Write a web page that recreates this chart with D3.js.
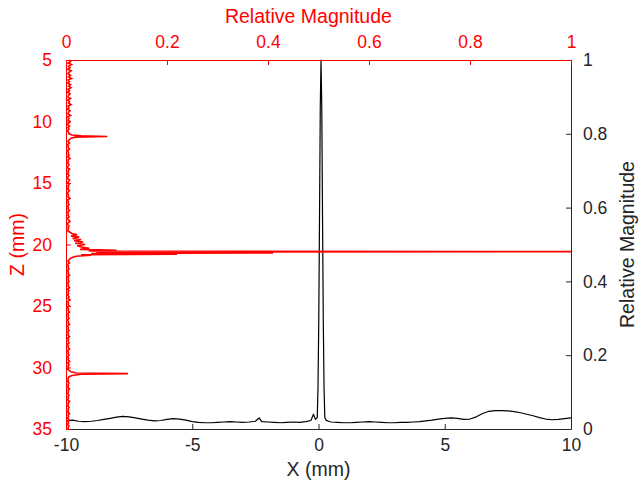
<!DOCTYPE html>
<html>
<head>
<meta charset="utf-8">
<script src="https://cdn.jsdelivr.net/npm/d3@7/dist/d3.min.js"></script>
<style>
  html, body { margin: 0; padding: 0; background: #fff; }
  svg { display: block; font-family: "Liberation Sans", Arial, Helvetica, sans-serif; }
</style>
</head>
<body>
<svg id="chart" width="639" height="488"></svg>
<script>
// ---------- Data ----------
// Lateral profile (black): X (mm) vs relative magnitude
const blackX = [-10,-9.75,-9.5,-9.25,-9,-8.75,-8.5,-8.25,-8,-7.75,-7.5,-7.25,-7,-6.75,-6.5,-6.25,-6,-5.75,-5.5,-5.25,-5,-4.75,-4.5,-4.25,-4,-3.75,-3.5,-3.25,-3,-2.75,-2.5,-2.35,-2.25,-2,-1.75,-1.5,-1.25,-1,-0.75,-0.5,-0.3,-0.2,-0.12,-0.05,-0.02,0.01,0.04,0.07,0.1,0.13,0.16,0.19,0.22,0.25,0.3,0.4,0.5,0.75,1,1.25,1.5,1.75,2,2.25,2.5,2.75,3,3.25,3.5,3.75,4,4.25,4.5,4.75,5,5.25,5.5,5.75,6,6.25,6.5,6.75,7,7.25,7.5,7.75,8,8.25,8.5,8.75,9,9.25,9.5,9.75,10];
const blackY = [0.022,0.024,0.021,0.02,0.021,0.023,0.026,0.029,0.032,0.034,0.033,0.03,0.027,0.024,0.022,0.023,0.026,0.028,0.027,0.024,0.02,0.018,0.017,0.017,0.018,0.019,0.02,0.019,0.018,0.019,0.021,0.03,0.02,0.019,0.018,0.017,0.018,0.019,0.018,0.02,0.023,0.04,0.026,0.031,0.11,0.29,0.57,0.87,1.0,0.87,0.57,0.29,0.11,0.031,0.024,0.021,0.019,0.018,0.017,0.017,0.018,0.019,0.02,0.019,0.018,0.017,0.017,0.018,0.018,0.019,0.02,0.022,0.024,0.027,0.029,0.03,0.029,0.026,0.027,0.033,0.042,0.048,0.05,0.05,0.049,0.047,0.044,0.04,0.036,0.031,0.027,0.025,0.026,0.028,0.03];

// Axial profile (red): Z (mm) vs relative magnitude
const redZ = [
  5,5.125,5.25,5.375,5.5,5.625,5.75,5.875,6,6.125,6.25,6.375,6.5,6.625,6.75,6.875,7,7.125,7.25,7.375,7.5,7.625,7.75,7.875,
  8,8.125,8.25,8.375,8.5,8.625,8.75,8.875,9,9.125,9.25,9.375,9.5,9.625,9.75,9.875,10,10.125,10.25,10.375,10.5,10.625,10.75,10.875,
  11,11.1,11.17,11.22,11.27,11.35,11.5,11.625,11.75,11.875,12,12.125,12.25,12.375,12.5,12.625,12.75,12.875,13,13.125,13.25,13.375,
  13.5,13.625,13.75,13.875,14,14.125,14.25,14.375,14.5,14.625,14.75,14.875,15,15.125,15.25,15.375,15.5,15.625,15.75,15.875,
  16,16.125,16.25,16.375,16.5,16.625,16.75,16.875,17,17.125,17.25,17.375,17.5,17.625,17.75,17.875,18,18.125,18.25,18.375,
  18.5,18.625,18.75,18.875,19,19.1,19.2,19.3,19.4,19.5,19.6,19.7,19.8,19.9,20,20.1,20.2,20.3,20.4,20.47,20.53,20.58,20.63,
  20.68,20.73,20.78,20.83,20.88,20.95,21.02,21.1,21.25,21.375,21.5,21.625,21.75,21.875,22,22.125,22.25,22.375,22.5,22.625,
  22.75,22.875,23,23.125,23.25,23.375,23.5,23.625,23.75,23.875,24,24.125,24.25,24.375,24.5,24.625,24.75,24.875,25,25.125,
  25.25,25.375,25.5,25.625,25.75,25.875,26,26.125,26.25,26.375,26.5,26.625,26.75,26.875,27,27.125,27.25,27.375,27.5,27.625,
  27.75,27.875,28,28.125,28.25,28.375,28.5,28.625,28.75,28.875,29,29.125,29.25,29.375,29.5,29.625,29.75,29.875,30,30.125,
  30.25,30.35,30.45,30.5,30.55,30.65,30.75,30.875,31,31.125,31.25,31.375,31.5,31.625,31.75,31.875,32,32.125,32.25,32.375,
  32.5,32.625,32.75,32.875,33,33.125,33.25,33.375,33.5,33.625,33.75,33.875,34,34.125,34.25,34.375,34.5,34.625,34.75,34.875,35];
const redMag = [
  0.006,0.009,0.004,0.011,0.005,0.008,0.003,0.01,0.006,0.004,0.009,0.005,0.011,0.004,0.007,0.003,0.009,0.005,0.01,0.004,0.007,0.003,0.008,0.005,
  0.004,0.009,0.003,0.007,0.005,0.01,0.004,0.006,0.003,0.008,0.005,0.004,0.009,0.003,0.006,0.004,0.008,0.005,0.003,0.007,0.004,0.006,0.003,0.005,
  0.006,0.012,0.03,0.082,0.018,0.01,0.006,0.004,0.007,0.003,0.005,0.004,0.007,0.003,0.005,0.004,0.006,0.003,0.008,0.004,0.005,0.003,
  0.006,0.004,0.003,0.007,0.004,0.005,0.003,0.006,0.004,0.003,0.007,0.005,0.003,0.006,0.004,0.005,0.003,0.007,0.004,0.003,
  0.005,0.004,0.008,0.003,0.005,0.004,0.006,0.003,0.005,0.004,0.007,0.003,0.005,0.004,0.006,0.003,0.005,0.008,0.004,0.003,
  0.006,0.004,0.005,0.003,0.008,0.012,0.022,0.01,0.026,0.013,0.03,0.016,0.034,0.018,0.038,0.022,0.03,0.046,0.028,0.1,0.045,1.0,0.06,
  0.41,0.05,0.22,0.03,0.05,0.02,0.015,0.01,0.006,0.004,0.007,0.003,0.005,0.004,0.006,0.003,0.005,0.004,0.007,0.003,0.005,
  0.004,0.006,0.003,0.005,0.004,0.007,0.003,0.006,0.004,0.005,0.003,0.006,0.004,0.008,0.003,0.005,0.004,0.006,0.003,0.005,
  0.004,0.007,0.003,0.005,0.004,0.006,0.003,0.005,0.004,0.007,0.003,0.005,0.004,0.006,0.003,0.005,0.004,0.007,0.003,0.005,
  0.004,0.006,0.003,0.005,0.004,0.007,0.003,0.005,0.004,0.006,0.003,0.005,0.004,0.007,0.003,0.006,0.004,0.005,0.003,0.007,
  0.01,0.02,0.123,0.03,0.012,0.006,0.004,0.005,0.003,0.006,0.004,0.005,0.003,0.007,0.004,0.005,0.003,0.006,0.004,0.005,
  0.003,0.007,0.004,0.005,0.003,0.006,0.004,0.005,0.003,0.007,0.004,0.005,0.003,0.006,0.004,0.005,0.003,0.006,0.004,0.005,0.004];

const xTicks = [-10,-5,0,5,10];
const zTicks = [5,10,15,20,25,30,35];
const magTicks = [0,0.2,0.4,0.6,0.8,1];

// ---------- Layout ----------
const W = 639, H = 488;
const L = 66, R = 571, T = 60, B = 429;
const RED = "#ff0000", AX = "#262626";

const svg = d3.select("#chart");

const x = d3.scaleLinear().domain([-10, 10]).range([L, R]);
const yMag = d3.scaleLinear().domain([0, 1]).range([B, T]);
const xMag = d3.scaleLinear().domain([0, 1]).range([L, R]);
const z = d3.scaleLinear().domain([5, 35]).range([T, B]);

svg.append("clipPath").attr("id", "clip")
  .append("rect").attr("x", L).attr("y", T - 1).attr("width", R - L).attr("height", B - T + 1);

// black lateral profile
const blackData = blackX.map((v, i) => [v, blackY[i]]);
svg.append("path")
  .datum(blackData)
  .attr("clip-path", "url(#clip)")
  .attr("fill", "none").attr("stroke", "#000").attr("stroke-width", 1.2)
  .attr("stroke-linejoin", "round")
  .attr("d", d3.line().x(d => x(d[0])).y(d => yMag(d[1])));

// red axial profile
const redData = redZ.map((v, i) => [redMag[i], v]);
svg.append("path")
  .datum(redData)
  .attr("fill", "none").attr("stroke", RED).attr("stroke-width", 1.6)
  .attr("stroke-linejoin", "miter")
  .attr("d", d3.line().x(d => xMag(d[0])).y(d => z(d[1])));

const fontTick = 17.5, fontLabel = 19.5;
const numFmt = d => String(+(+d).toFixed(1)).replace("\u2212", "-");

function styleAxis(g, color) {
  g.select(".domain").attr("stroke", color).attr("stroke-width", 1);
  g.selectAll(".tick line").attr("stroke", color).attr("stroke-width", 1);
  g.selectAll(".tick text").attr("fill", color).attr("font-size", fontTick)
    .attr("font-family", "'Liberation Sans', Arial, sans-serif");
}

// bottom X axis (black), ticks inward
const gB = svg.append("g").attr("transform", `translate(0,${B})`)
  .call(d3.axisBottom(x).tickValues(xTicks).tickSize(-5).tickSizeOuter(0).tickPadding(10).tickFormat(numFmt));
styleAxis(gB, AX);

// right Y axis (black)
const gR = svg.append("g").attr("transform", `translate(${R},0)`)
  .call(d3.axisRight(yMag).tickValues(magTicks).tickSize(-5).tickSizeOuter(0).tickPadding(12).tickFormat(numFmt));
styleAxis(gR, AX);

// top axis (red)
const gT = svg.append("g").attr("transform", `translate(0,${T})`)
  .call(d3.axisTop(xMag).tickValues(magTicks).tickSize(-5).tickSizeOuter(0).tickPadding(12).tickFormat(numFmt));
styleAxis(gT, RED);

// left axis (red)
const gL = svg.append("g").attr("transform", `translate(${L},0)`)
  .call(d3.axisLeft(z).tickValues(zTicks).tickSize(-5).tickSizeOuter(0).tickPadding(14).tickFormat(numFmt));
styleAxis(gL, RED);

// Axis labels
svg.append("text").attr("x", xMag(0.48)).attr("y", 23)
  .attr("text-anchor", "middle").attr("fill", RED).attr("font-size", fontLabel)
  .text("Relative Magnitude");

svg.append("text").attr("x", (L + R) / 2).attr("y", 476)
  .attr("text-anchor", "middle").attr("fill", AX).attr("font-size", fontLabel)
  .text("X (mm)");

svg.append("text")
  .attr("transform", `translate(24,${(T + B) / 2}) rotate(-90)`)
  .attr("text-anchor", "middle").attr("fill", RED).attr("font-size", fontLabel)
  .text("Z (mm)");

svg.append("text")
  .attr("transform", `translate(634,${(T + B) / 2}) rotate(-90)`)
  .attr("text-anchor", "middle").attr("fill", AX).attr("font-size", fontLabel)
  .text("Relative Magnitude");
</script>
</body>
</html>
